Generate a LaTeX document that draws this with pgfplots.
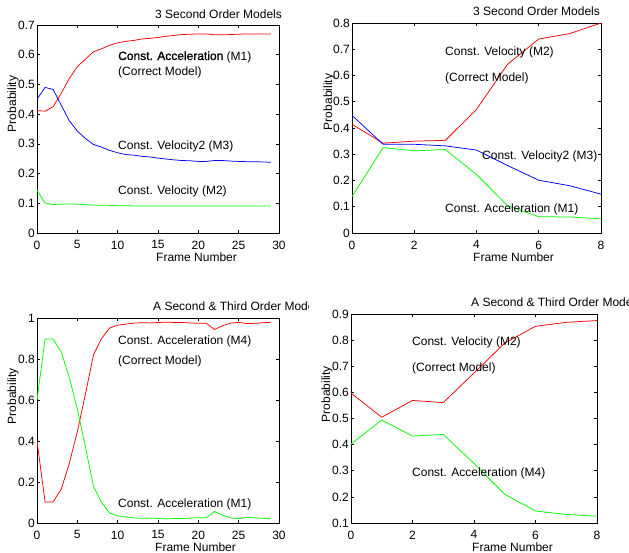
\documentclass[border=0pt]{standalone}
\usepackage{fontspec}
\setmainfont{Liberation Sans}
\usepackage{pgfplots}
\pgfplotsset{compat=1.18}

\newcommand{\fs}{\fontsize{12bp}{14bp}\selectfont}

\pgfplotsset{
  panel/.style={
    scale only axis, anchor=south west,
    axis line style={line width=0.9bp},
    tick align=inside, tick pos=both,
    major tick length=3bp,
    every tick/.style={black, line width=0.6bp},
    tick label style={font=\fs},
    /pgf/number format/assume math mode=true,
    yticklabel style={inner sep=1bp, xshift=-1bp},
    xticklabel style={inner sep=1bp, yshift=-6.5bp},
    scaled ticks=false,
    every axis plot/.append style={line width=0.75bp, mark=none},
  },
}

\begin{document}
\begin{tikzpicture}[font=\fs]
\useasboundingbox (0,0) rectangle (629bp,-553bp);

% ---- top left: 3 second order models, 30 frames
\begin{axis}[panel, at={(37bp,-233bp)}, width=242bp, height=208bp,
    xmin=0, xmax=30, ymin=0, ymax=0.7,
    xtick={0,5,...,30}, ytick={0,0.1,0.2,0.3,0.4,0.5,0.6,0.7}]
\addplot[red] coordinates {(0,0.412)(1,0.41)(2,0.425)(3,0.47)(4,0.52)(5,0.56)(6,0.585)(7,0.61)(8,0.62)(9,0.632)(10,0.64)(11,0.645)(12,0.648)(13,0.653)(14,0.655)(15,0.658)(16,0.662)(17,0.665)(18,0.668)(19,0.669)(20,0.67)(21,0.67)(22,0.667)(23,0.667)(24,0.668)(25,0.669)(26,0.67)(27,0.67)(28,0.67)(29,0.67)};
\addplot[blue] coordinates {(0,0.45)(1,0.49)(2,0.483)(3,0.43)(4,0.378)(5,0.343)(6,0.318)(7,0.298)(8,0.289)(9,0.278)(10,0.27)(11,0.264)(12,0.262)(13,0.258)(14,0.256)(15,0.252)(16,0.249)(17,0.246)(18,0.244)(19,0.243)(20,0.241)(21,0.241)(22,0.244)(23,0.244)(24,0.242)(25,0.241)(26,0.24)(27,0.24)(28,0.239)(29,0.238)};
\addplot[green] coordinates {(0,0.144)(1,0.101)(2,0.096)(3,0.097)(4,0.098)(5,0.097)(6,0.095)(7,0.094)(8,0.093)(9,0.093)(10,0.092)(11,0.092)(12,0.091)(13,0.091)(14,0.091)(15,0.091)(16,0.091)(17,0.091)(18,0.091)(19,0.091)(20,0.091)(21,0.091)(22,0.091)(23,0.091)(24,0.091)(25,0.091)(26,0.091)(27,0.091)(28,0.091)(29,0.091)};
\end{axis}

% ---- top right: 3 second order models, 8 frames
\begin{axis}[panel, at={(352bp,-233bp)}, width=249bp, height=210bp,
    xmin=0, xmax=8, ymin=0, ymax=0.8,
    xtick={0,2,...,8}, ytick={0,0.1,0.2,0.3,0.4,0.5,0.6,0.7,0.8}]
\addplot[red] coordinates {(0,0.414)(1,0.342)(2,0.35)(3,0.353)(4,0.471)(5,0.643)(6,0.739)(7,0.76)(8,0.8)};
\addplot[blue] coordinates {(0,0.448)(1,0.338)(2,0.338)(3,0.332)(4,0.316)(5,0.257)(6,0.201)(7,0.18)(8,0.148)};
\addplot[green] coordinates {(0,0.139)(1,0.325)(2,0.313)(3,0.318)(4,0.223)(5,0.104)(6,0.062)(7,0.061)(8,0.054)};
\end{axis}

% ---- bottom left: second & third order, 30 frames
\begin{axis}[panel, at={(37bp,-523bp)}, width=242bp, height=205bp,
    xmin=0, xmax=30, ymin=0, ymax=1,
    xtick={0,5,...,30}, ytick={0,0.2,0.4,0.6,0.8,1}]
\addplot[red] coordinates {(0,0.4)(1,0.103)(2,0.103)(3,0.165)(4,0.29)(5,0.445)(6,0.628)(7,0.82)(8,0.9)(9,0.951)(10,0.965)(11,0.97)(12,0.975)(13,0.977)(14,0.976)(15,0.978)(16,0.98)(17,0.978)(18,0.978)(19,0.976)(20,0.974)(21,0.974)(22,0.944)(23,0.962)(24,0.975)(25,0.979)(26,0.973)(27,0.974)(28,0.977)(29,0.979)};
\addplot[green] coordinates {(0,0.6)(1,0.897)(2,0.897)(3,0.835)(4,0.71)(5,0.555)(6,0.372)(7,0.18)(8,0.1)(9,0.049)(10,0.035)(11,0.03)(12,0.025)(13,0.023)(14,0.024)(15,0.022)(16,0.02)(17,0.022)(18,0.022)(19,0.024)(20,0.026)(21,0.026)(22,0.056)(23,0.038)(24,0.025)(25,0.021)(26,0.027)(27,0.026)(28,0.023)(29,0.021)};
\end{axis}

% ---- bottom right: second & third order, 8 frames
\begin{axis}[panel, at={(351bp,-523bp)}, width=246bp, height=209bp,
    xmin=0, xmax=8, ymin=0.1, ymax=0.9,
    xtick={0,2,...,8}, ytick={0.1,0.2,0.3,0.4,0.5,0.6,0.7,0.8,0.9}]
\addplot[red] coordinates {(0,0.597)(1,0.505)(2,0.569)(3,0.561)(4,0.674)(5,0.789)(6,0.853)(7,0.868)(8,0.875)};
\addplot[green] coordinates {(0,0.402)(1,0.494)(2,0.433)(3,0.439)(4,0.328)(5,0.21)(6,0.146)(7,0.133)(8,0.126)};
\end{axis}

% titles (cropped as in the source figure)
\node[anchor=base west, inner sep=0] at (155bp,-18bp) {3 Second Order Models};
\node[anchor=base west, inner sep=0] at (473bp,-15bp) {3 Second Order Models};
\begin{scope}
  \clip (0,-290bp) rectangle (308bp,-320bp);
  \node[anchor=base west, inner sep=0] at (153bp,-310.5bp) {A Second \& Third Order Models};
\end{scope}
\begin{scope}
  \clip (310bp,-290bp) rectangle (629bp,-320bp);
  \node[anchor=base west, inner sep=0] at (471bp,-306.5bp) {A Second \& Third Order Models};
\end{scope}

% axis labels
\foreach \x/\y in {156/261.5, 473/261.5, 155/551.5, 472/551.5}
  \node[anchor=base west, inner sep=0] at (\x bp,-\y bp) {Frame Number};
\foreach \x/\y in {16/104, 332/102, 16/396, 330/394}
  \node[anchor=base, inner sep=0, rotate=90] at (\x bp,-\y bp) {Probability};

% annotations
\node[anchor=base west, inner sep=0] at (118bp,-60bp) {{\addfontfeature{FakeBold=1.2}Const. Acceleration} (M1)};
\node[anchor=base west, inner sep=0] at (118bp,-75bp) {(Correct Model)};
\node[anchor=base west, inner sep=0] at (118bp,-149bp) {Const. Velocity2 (M3)};
\node[anchor=base west, inner sep=0] at (118bp,-194bp) {Const. Velocity (M2)};

\node[anchor=base west, inner sep=0] at (445bp,-55bp) {Const. Velocity (M2)};
\node[anchor=base west, inner sep=0] at (445bp,-81bp) {(Correct Model)};
\node[anchor=base west, inner sep=0] at (482bp,-159bp) {Const. Velocity2 (M3)};
\node[anchor=base west, inner sep=0] at (445bp,-212bp) {Const. Acceleration (M1)};

\node[anchor=base west, inner sep=0] at (118bp,-344bp) {Const. Acceleration (M4)};
\node[anchor=base west, inner sep=0] at (118bp,-364bp) {(Correct Model)};
\node[anchor=base west, inner sep=0] at (118bp,-507bp) {Const. Acceleration (M1)};

\node[anchor=base west, inner sep=0] at (412bp,-345bp) {Const. Velocity (M2)};
\node[anchor=base west, inner sep=0] at (412bp,-371bp) {(Correct Model)};
\node[anchor=base west, inner sep=0] at (412bp,-476bp) {Const. Acceleration (M4)};
\end{tikzpicture}
\end{document}
